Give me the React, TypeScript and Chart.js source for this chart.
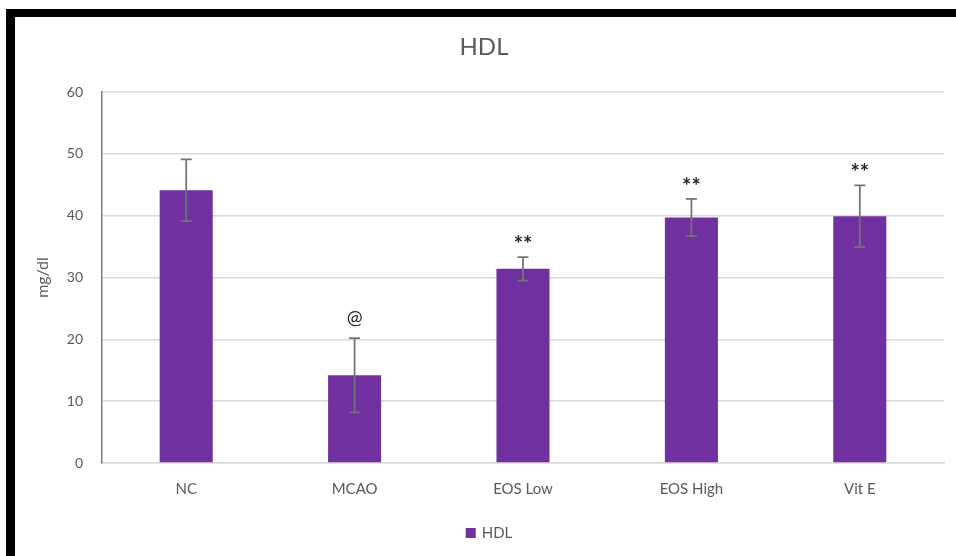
import React, { useEffect, useRef } from "react";
import { Chart, registerables } from "chart.js";

Chart.register(...registerables);

// Group labels, HDL means (mg/dl), their error bars and the significance marks
const groups = ["NC", "MCAO", "EOS Low", "EOS High", "Vit E"];
const hdlMeans = [44.1, 14.2, 31.4, 39.7, 39.9];
const hdlErrors = [5.0, 6.0, 1.9, 3.0, 5.0];
const marks = ["", "@", "**", "**", "**"];
const seriesName = "HDL";
const chartTitle = "HDL";
const yTitle = "mg/dl";

const FONT = "Lato, 'Open Sans', sans-serif";
const BAR_COLOR = "#7030A0";
const TEXT_GRAY = "#595959";

// Black frame along the top and left edges of the figure
const framePlugin = {
  id: "frame",
  beforeDraw(chart: any) {
    const { ctx } = chart;
    ctx.save();
    ctx.fillStyle = "#ffffff";
    ctx.fillRect(0, 0, chart.width, chart.height);
    ctx.fillStyle = "#000000";
    ctx.fillRect(6, 9, chart.width - 6, 8);
    ctx.fillRect(6, 9, 9, chart.height - 9);
    ctx.restore();
  },
};

// Error bars and significance marks above each bar
const errorBarPlugin = {
  id: "errorBars",
  afterDatasetsDraw(chart: any) {
    const { ctx } = chart;
    const meta = chart.getDatasetMeta(0);
    const y = chart.scales.y;
    ctx.save();
    meta.data.forEach((bar: any, i: number) => {
      const x = bar.x;
      const top = y.getPixelForValue(hdlMeans[i] + hdlErrors[i]);
      const bottom = y.getPixelForValue(hdlMeans[i] - hdlErrors[i]);
      ctx.strokeStyle = "#737373";
      ctx.lineWidth = 1.75;
      ctx.beginPath();
      ctx.moveTo(x, top);
      ctx.lineTo(x, bottom);
      ctx.moveTo(x - 5.5, top);
      ctx.lineTo(x + 5.5, top);
      ctx.moveTo(x - 5.5, bottom);
      ctx.lineTo(x + 5.5, bottom);
      ctx.stroke();

      const mark = marks[i];
      if (mark) {
        ctx.fillStyle = "#262626";
        ctx.textAlign = "center";
        ctx.textBaseline = "middle";
        if (mark === "@") {
          ctx.font = `19px ${FONT}`;
          ctx.fillText(mark, x, top - 20);
        } else {
          ctx.font = `bold 22px ${FONT}`;
          ctx.fillText(mark, x, top - 12);
        }
      }
    });
    ctx.restore();
  },
};

// Chart title and bottom legend
const headerLegendPlugin = {
  id: "headerLegend",
  afterDraw(chart: any) {
    const { ctx } = chart;
    ctx.save();
    ctx.fillStyle = TEXT_GRAY;
    ctx.font = `24px ${FONT}`;
    ctx.textAlign = "center";
    ctx.textBaseline = "middle";
    ctx.fillText(chartTitle, 484, 47);

    ctx.font = `15px ${FONT}`;
    const tw = ctx.measureText(seriesName).width;
    const box = 10;
    const gap = 6;
    const total = box + gap + tw;
    const lx = 489 - total / 2;
    ctx.fillStyle = BAR_COLOR;
    ctx.fillRect(lx, 528, box, box);
    ctx.fillStyle = TEXT_GRAY;
    ctx.textAlign = "left";
    ctx.fillText(seriesName, lx + box + gap, 533.5);
    ctx.restore();
  },
};

export default function App() {
  const canvasRef = useRef<HTMLCanvasElement | null>(null);

  useEffect(() => {
    if (!canvasRef.current) return;
    const chart = new Chart(canvasRef.current, {
      type: "bar",
      data: {
        labels: groups,
        datasets: [
          {
            label: seriesName,
            data: hdlMeans,
            backgroundColor: BAR_COLOR,
            borderWidth: 0,
            categoryPercentage: 1,
            barPercentage: 0.315,
          },
        ],
      },
      options: {
        responsive: false,
        animation: false,
        layout: { padding: { left: 16, right: 12, top: 92, bottom: 0 } },
        plugins: {
          legend: { display: false },
          title: { display: false },
          tooltip: { enabled: false },
        },
        scales: {
          x: {
            grid: { display: false, drawTicks: false },
            border: { color: "#d9d9d9", width: 1.5 },
            ticks: {
              color: TEXT_GRAY,
              font: { family: FONT, size: 15 },
              padding: 17,
            },
            afterFit(scale: any) {
              scale.height = 93;
            },
          },
          y: {
            min: 0,
            max: 60,
            ticks: {
              stepSize: 10,
              color: TEXT_GRAY,
              font: { family: FONT, size: 14 },
              padding: 19,
            },
            grid: { color: "#d9d9d9", lineWidth: 1.5, drawTicks: false },
            border: { color: "#7f7f7f", width: 1.5 },
            title: {
              display: true,
              text: yTitle,
              color: TEXT_GRAY,
              font: { family: FONT, size: 16 },
              padding: { top: 17, bottom: 0 },
            },
            afterFit(scale: any) {
              scale.width = 86;
            },
          },
        },
      },
      plugins: [framePlugin, errorBarPlugin, headerLegendPlugin],
    });
    return () => chart.destroy();
  }, []);

  return (
    <div style={{ position: "absolute", left: 0, top: 0, width: 956, height: 556 }}>
      <canvas ref={canvasRef} width={956} height={556} />
    </div>
  );
}
